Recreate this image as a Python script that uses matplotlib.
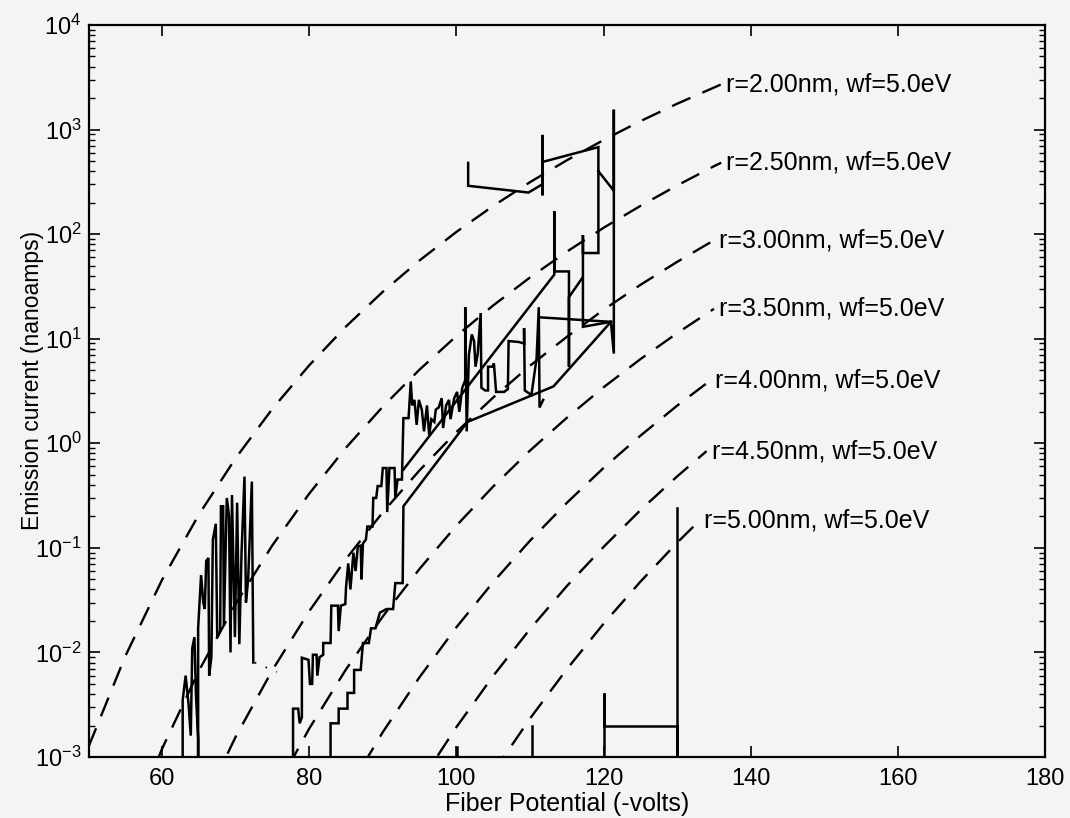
import matplotlib
matplotlib.use("Agg")
import matplotlib.pyplot as plt
import numpy as np

plt.rcParams['font.family'] = ['Liberation Sans', 'DejaVu Sans']
plt.rcParams['mathtext.fontset'] = 'custom'
plt.rcParams['mathtext.rm'] = 'Liberation Sans'
plt.rcParams['mathtext.it'] = 'Liberation Sans:italic'
plt.rcParams['mathtext.default'] = 'regular'

# ---------------- data ----------------
curve_labels = ["r=2.00nm, wf=5.0eV", "r=2.50nm, wf=5.0eV", "r=3.00nm, wf=5.0eV",
                "r=3.50nm, wf=5.0eV", "r=4.00nm, wf=5.0eV", "r=4.50nm, wf=5.0eV",
                "r=5.00nm, wf=5.0eV"]

r20_x = [50, 55, 60, 65, 70, 75, 80, 85, 90, 95, 100, 105, 110, 115, 120, 125, 130, 136]
r20_y = [1.25e-3, 9.2e-3, 0.0495, 0.208, 0.721, 2.14, 5.57, 13.1, 28.1, 56.1, 105, 186, 314,
         508, 794, 1202, 1766, 2706]
r25_x = [55, 60, 65, 70, 75, 80, 85, 90, 95, 100, 105, 110, 115, 120, 125, 130, 135, 136]
r25_y = [1.6e-4, 1.2e-3, 6.67e-3, 0.0292, 0.106, 0.330, 0.908, 2.24, 5.07, 10.6, 20.8, 38.5,
         67.9, 115, 186, 292, 446, 482]
r30_x = [65, 70, 75, 80, 85, 90, 95, 100, 105, 110, 115, 120, 125, 130, 135]
r30_y = [2.9e-4, 1.56e-3, 6.79e-3, 0.0248, 0.0783, 0.219, 0.552, 1.28, 2.74, 5.51, 10.4, 18.9,
         32.7, 54.3, 87.3]
r35_x = [75, 80, 85, 90, 95, 100, 105, 110, 115, 120, 125, 130, 135]
r35_y = [4.3e-4, 1.87e-3, 6.89e-3, 0.0221, 0.0630, 0.163, 0.386, 0.851, 1.75, 3.43, 6.37,
         11.3, 19.3]
r40_x = [85, 90, 95, 100, 105, 110, 115, 120, 125, 130, 134.5]
r40_y = [4.5e-4, 1.73e-3, 5.81e-3, 0.0174, 0.0470, 0.117, 0.269, 0.581, 1.18, 2.29, 3.98]
r45_x = [95, 100, 105, 110, 115, 120, 125, 130, 134]
r45_y = [5.6e-4, 1.93e-3, 5.96e-3, 0.0167, 0.0430, 0.102, 0.229, 0.482, 0.841]
r50_x = [105, 110, 115, 120, 125, 130, 133]
r50_y = [7.1e-4, 2.33e-3, 6.90e-3, 0.0188, 0.0474, 0.112, 0.181]

# measured emission current (segments of the recorded trace)
seg1_x = [62.8, 62.8, 63.2, 63.6, 63.9, 64.1, 64.4, 64.6, 64.9, 64.9, 64.9, 65.3, 65.6, 65.8,
          66.0, 66.3, 66.4, 66.7, 66.9, 67.3, 67.5, 67.9, 68.0, 68.3, 68.4, 68.8, 69.1, 69.3,
          69.5, 69.9, 70.2, 70.5, 70.8, 71.2, 71.4, 71.7, 72.2, 72.4]
seg1_y = [1e-5, 3.5e-3, 6.0e-3, 3.2e-3, 1.6e-3, 1.1e-2, 1.4e-2, 4e-3, 1.5e-3, 1e-5, 1.7e-2,
          5.5e-2, 3.0e-2, 2.6e-2, 7.5e-2, 8.0e-2, 6e-3, 9e-3, 1.2e-1, 1.7e-1, 1.4e-2, 1.6e-2,
          2.5e-1, 2.5e-1, 1.8e-2, 3.0e-1, 2.0e-1, 1.0e-2, 3.2e-1, 1.4e-2, 2.7e-1, 1.2e-2,
          9e-2, 4.8e-1, 3.0e-2, 5e-2, 4.3e-1, 8e-3]
trail_x = [72.6, 75.6]
trail_y = [8e-3, 6.5e-3]

seg2_x = [77.8, 77.8, 78.5, 78.7, 79.0, 79.0, 79.9, 80.1, 80.4, 80.5, 81.0, 81.1, 81.4, 81.9,
          81.9, 82.9, 83.0, 83.9, 84.0, 84.3, 84.9, 85.0, 85.3, 85.6, 86.0, 86.3, 86.6, 87.0,
          87.1, 87.3, 87.7, 87.9, 88.6, 88.7, 89.1, 89.3, 89.8, 90.0, 90.5, 90.6, 90.9, 91.6,
          91.7, 92.0, 92.6, 92.8, 93.5, 93.8, 94.0, 94.3, 94.6, 94.9, 95.3, 95.6, 96.0, 96.3,
          96.6, 97.0, 97.2, 97.6, 98.0, 98.2, 98.6, 99.0, 99.2, 99.7, 100.1, 100.4, 100.8,
          101.2, 101.2, 101.4, 101.7, 102.1, 102.4, 102.6, 102.9, 103.3, 103.4, 103.9, 104.3,
          104.3, 104.9, 105.1, 105.4, 106.5, 107.0, 107.1, 108.5, 109.2, 109.2, 109.3, 110.2,
          110.9, 111.2, 111.3, 111.8]
seg2_y = [1e-5, 2.9e-3, 2.9e-3, 2.1e-3, 2.4e-3, 8.9e-3, 8.5e-3, 5e-3, 5e-3, 9.5e-3, 9.5e-3,
          6e-3, 9e-3, 9.5e-3, 1.23e-2, 1.23e-2, 2.8e-2, 2.8e-2, 1.6e-2, 2.8e-2, 2.9e-2, 4.2e-2,
          7.1e-2, 4.0e-2, 9.0e-2, 6.0e-2, 1.03e-1, 1.05e-1, 5.0e-2, 1.1e-1, 1.2e-1, 1.6e-1,
          1.6e-1, 3.0e-1, 3.0e-1, 3.9e-1, 3.9e-1, 5.8e-1, 5.8e-1, 2.2e-1, 5.8e-1, 5.8e-1,
          3.0e-1, 4.5e-1, 4.5e-1, 1.74, 1.74, 3.9, 2.3, 2.6, 1.5, 2.6, 2.1, 1.3, 2.3, 1.2, 1.7,
          1.6, 2.1, 2.2, 2.7, 1.4, 2.3, 2.6, 1.7, 2.7, 3.1, 2.0, 3.4, 4.0, 20, 1.3, 7.0, 11,
          9.5, 5.4, 7.2, 17.6, 3.4, 3.2, 3.2, 5.4, 5.4, 5.8, 3.1, 3.1, 3.3, 9.5, 9.3, 9.0, 12.6,
          3.2, 2.9, 6.5, 20, 2.2, 2.6]

seg3_x = [82.9, 82.9, 84.0, 84.0, 85.2, 85.2, 86.1, 86.1, 87.0, 87.3, 88.1, 88.4, 89.0, 89.6,
          90.5, 91.4, 91.7, 92.7, 92.8, 101.5, 113.2, 121.0]
seg3_y = [1e-5, 2.1e-3, 2.1e-3, 2.9e-3, 2.9e-3, 4.1e-3, 4.1e-3, 6.8e-3, 6.8e-3, 1.23e-2,
          1.23e-2, 1.7e-2, 1.7e-2, 2.4e-2, 2.6e-2, 2.6e-2, 4.6e-2, 4.6e-2, 2.5e-1, 1.6, 3.5,
          14.5]

seg4_x = [92.8, 113.3, 113.3, 113.3, 115.3, 115.3, 115.3, 117.1]
seg4_y = [0.56, 41, 166, 44, 44, 5.4, 25, 38]

seg5_x = [101.6, 101.6, 109.8, 111.7, 111.7, 111.7, 111.7, 119.3, 119.3, 117.2, 117.2, 117.2,
          121.0, 121.4, 121.4, 121.4, 119.3]
seg5_y = [480, 290, 250, 300, 890, 235, 490, 680, 66, 66, 98, 13, 14.5, 7.2, 1550, 260, 400]

seg9_x = [111.4, 121.0]
seg9_y = [16, 14.5]

seg6_x = [100.1, 100.1]
seg6_y = [1e-5, 1.25e-3]
seg7_x = [110.3, 110.3]
seg7_y = [1e-5, 2.0e-3]
seg8_x = [120.0, 120.0, 120.0, 130.0, 130.0, 130.0]
seg8_y = [1e-5, 4.1e-3, 2.0e-3, 2.0e-3, 1e-5, 0.24]

x_ticks = [60, 80, 100, 120, 140, 160, 180]
y_ticks = [1e-3, 1e-2, 1e-1, 1e0, 1e1, 1e2, 1e3, 1e4]
y_ticklabels = [r'$10^{-3}$', r'$10^{-2}$', r'$10^{-1}$', r'$10^{0}$', r'$10^{1}$',
                r'$10^{2}$', r'$10^{3}$', r'$10^{4}$']

# ---------------- figure ----------------
bg = '#f4f4f4'
fig = plt.figure(figsize=(10.7, 8.18), dpi=100, facecolor=bg)
ax = fig.add_axes([88.5 / 1070, 1 - 757 / 818, (1045 - 88.5) / 1070, (757 - 25) / 818])
ax.set_facecolor(bg)
ax.set_yscale('log')
ax.set_xlim(50, 180)
ax.set_ylim(1e-3, 1e4)

curves = [(r20_x, r20_y), (r25_x, r25_y), (r30_x, r30_y), (r35_x, r35_y),
          (r40_x, r40_y), (r45_x, r45_y), (r50_x, r50_y)]
for (cx, cy), lab in zip(curves, curve_labels):
    ax.plot(cx, cy, color='black', lw=1.7, dashes=(8.5, 5.5))
    ax.text(cx[-1] + 0.7, cy[-1], lab, fontsize=18, ha='left', va='center')

segs = [(seg1_x, seg1_y), (seg2_x, seg2_y), (seg3_x, seg3_y), (seg4_x, seg4_y),
        (seg5_x, seg5_y), (seg6_x, seg6_y), (seg7_x, seg7_y), (seg8_x, seg8_y),
        (seg9_x, seg9_y)]
for sx, sy in segs:
    ax.plot(sx, sy, color='black', lw=1.8, solid_joinstyle='miter')
ax.plot(trail_x, trail_y, color='black', lw=1.2, dashes=(1, 6))

ax.set_xticks(x_ticks)
ax.set_yticks(y_ticks)
ax.set_yticklabels(y_ticklabels)
ax.yaxis.set_minor_locator(matplotlib.ticker.LogLocator(base=10, subs=np.arange(2, 10), numticks=20))
ax.yaxis.set_minor_formatter(matplotlib.ticker.NullFormatter())
ax.tick_params(which='major', direction='in', top=True, right=True, length=8, width=1.2,
               labelsize=17)
ax.tick_params(axis='x', which='major', pad=8)
ax.tick_params(axis='y', which='major', pad=5)
ax.tick_params(which='minor', direction='in', left=True, right=True, length=4, width=1.0)
for s in ax.spines.values():
    s.set_linewidth(1.6)

ax.set_xlabel('Fiber Potential (-volts)', fontsize=18, labelpad=1)
ax.set_ylabel('Emission current (nanoamps)', fontsize=16.5)
ax.yaxis.set_label_coords(-0.047, 0.514)

fig.savefig('out.png', dpi=100, facecolor=bg)
